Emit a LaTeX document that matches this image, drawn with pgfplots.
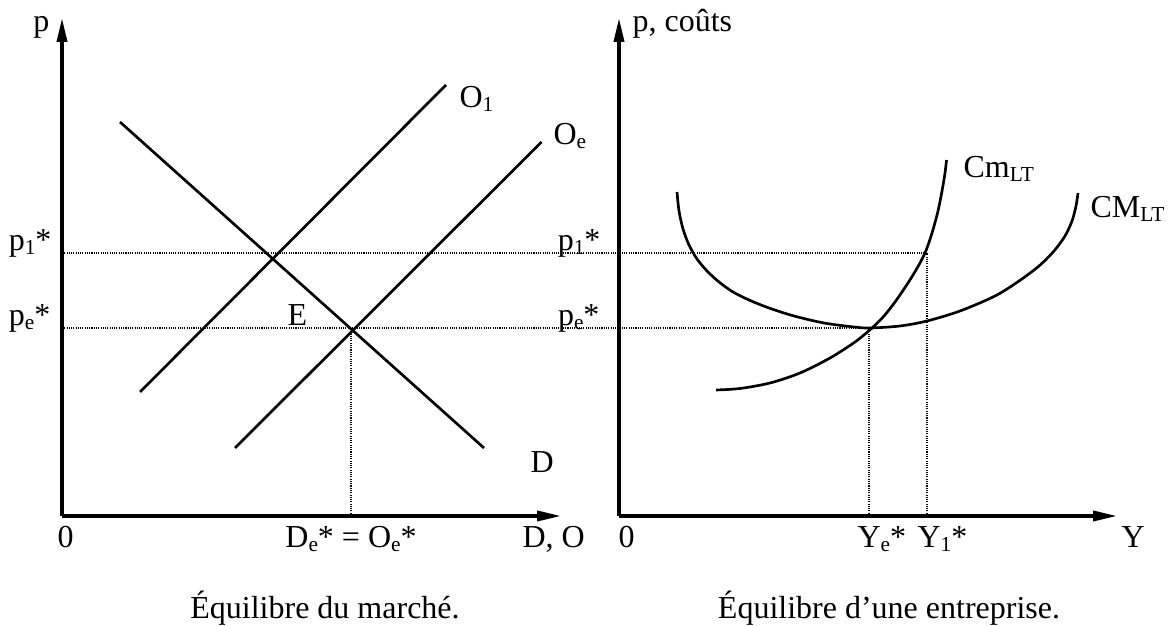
\documentclass[border=0pt]{standalone}
\usepackage{fontspec}
\setmainfont{Liberation Serif}
\usepackage{pgfplots}
\pgfplotsset{compat=1.18}
\usetikzlibrary{arrows.meta}
\newcommand{\sub}[1]{\raisebox{-0.12em}{\fontsize{8}{8}\selectfont #1}}
\tikzset{lab/.style={inner sep=0pt, font=\fontsize{12}{14}\selectfont}}
\begin{document}
\begin{tikzpicture}[x=0.375pt,y=0.375pt,font=\fontsize{12}{14}\selectfont]
\path[use as bounding box] (0,0) rectangle (1171,626);
\pgfplotsset{
  econ/.style={
    x=0.375pt, y=0.375pt, anchor=origin, axis lines=left,
    xtick=\empty, ytick=\empty, enlargelimits=false, clip=false,
    ymin=0, ymax=498,
    axis line style={line width=1.25pt, -{Triangle[length=9pt,width=3.8pt]}},
  },
  curve/.style={black, line width=1pt, no marks},
  dots/.style={black, line width=0.45pt, dash pattern=on 0.4pt off 0.45pt, no marks},
}
% ---------------- left panel: market ----------------
\begin{axis}[econ, at={(62,110)}, xmin=0, xmax=499]
  \addplot[dots] coordinates {(0,263) (863,263)};
  \addplot[dots] coordinates {(0,188) (808,188)};
  \addplot[dots] coordinates {(289,0) (289,188)};
  % demand D
  \addplot[curve] coordinates {(58,394) (422,68)};
  % supply O1
  \addplot[curve] coordinates {(78,124) (384,431)};
  % supply Oe
  \addplot[curve] coordinates {(173,68) (479.5,374)};
  \node[lab, anchor=base east] at (-12,484) {p};
  \node[lab, anchor=base east] at (-10,265) {p\sub{1}*};
  \node[lab, anchor=base east] at (-11,190) {p\sub{e}*};
  \node[lab, anchor=base west] at (225,190) {E};
  \node[lab, anchor=base west] at (397,408) {O\sub{1}};
  \node[lab, anchor=base west] at (491,371) {O\sub{e}};
  \node[lab, anchor=base west] at (468,43) {D};
  \node[lab, anchor=base west] at (-5,-32) {0};
  \node[lab, anchor=base] at (289,-32) {D\sub{e}* = O\sub{e}*};
  \node[lab, anchor=base west] at (460,-32) {D, O};
  \node[lab, anchor=base] at (263,-102) {Équilibre du marché.};
\end{axis}
% ---------------- right panel: firm ----------------
\begin{axis}[econ, at={(619,110)}, xmin=0, xmax=498]
  \addplot[dots] coordinates {(250,0) (250,188)};
  \addplot[dots] coordinates {(308,0) (308,263)};
  % long-run average cost CM_LT
  \addplot[curve, smooth] coordinates {
    (58,324) (60,305) (64,287) (70,271) (78,257) (88,245) (100,234)
    (114,224) (130,216) (150,208) (175,200) (205,193) (235,189) (251,188)
    (281,190) (308,195) (341,205) (376,220) (400,235) (420,250)
    (435,265) (446,280) (453,295) (457,310) (459,323)};
  % long-run marginal cost Cm_LT
  \addplot[curve, smooth] coordinates {
    (97,126) (121,127.5) (151,133) (181,143) (211,158) (236,174)
    (253,188) (265,200) (276,214) (287,230) (297,246) (306,263)
    (313,283) (319,305) (323,325) (326,343) (327.5,356)};
  \node[lab, anchor=base west] at (13,484) {p, coûts};
  \node[lab, anchor=base east] at (-18,265) {p\sub{1}*};
  \node[lab, anchor=base east] at (-19,190) {p\sub{e}*};
  \node[lab, anchor=base west] at (-1,-32) {0};
  \node[lab, anchor=base west] at (238,-32) {Y\sub{e}*};
  \node[lab, anchor=base west] at (298,-32) {Y\sub{1}*};
  \node[lab, anchor=base west] at (502,-32) {Y};
  \node[lab, anchor=base west] at (344,338) {Cm\sub{LT}};
  \node[lab, anchor=base west] at (471,298) {CM\sub{LT}};
  \node[lab, anchor=base] at (270,-102) {Équilibre d’une entreprise.};
\end{axis}
\end{tikzpicture}
\end{document}
